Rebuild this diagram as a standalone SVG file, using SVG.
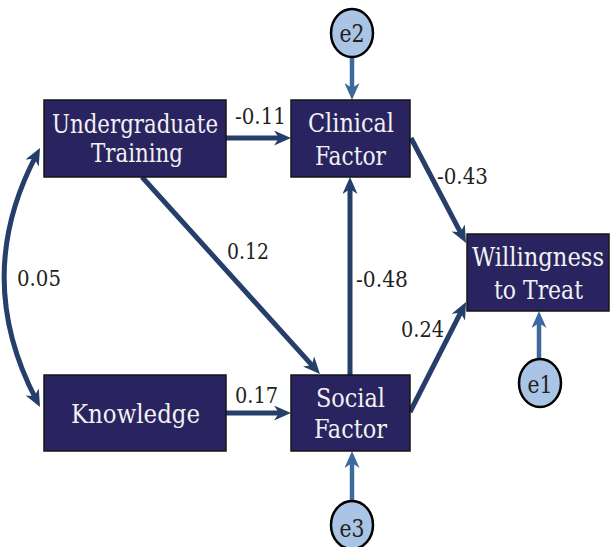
<svg xmlns="http://www.w3.org/2000/svg" width="612" height="547" viewBox="0 0 612 547">
<style>
text{font-family:'DejaVu Serif','Liberation Serif',serif;font-stretch:condensed}
.box{fill:#29235f;stroke:#161616;stroke-width:1.5}
.nt{font-size:26px;fill:#f2f2f2;text-anchor:middle}
.lbl{font-size:23px;fill:#231f20}
.err{fill:#a9c4e4;stroke:#000;stroke-width:2.5}
.et{font-size:24px;fill:#231f20;text-anchor:middle}
.main{fill:none;stroke:#263e6a;stroke-width:5;marker-end:url(#ah)}
.eline{fill:none;stroke:#3c6a9f;stroke-width:4.5;marker-end:url(#ahe)}
</style>
<defs>
<marker id="ah" markerUnits="userSpaceOnUse" markerWidth="17" markerHeight="15" refX="9" refY="7.5" orient="auto" viewBox="0 0 17 15">
<path d="M0,0 L17,7.5 L0,15 L5,7.5 z" fill="#263e6a"/>
</marker>
<marker id="ahe" markerUnits="userSpaceOnUse" markerWidth="17" markerHeight="15" refX="9" refY="7.5" orient="auto" viewBox="0 0 17 15">
<path d="M0,0 L17,7.5 L0,15 L5,7.5 z" fill="#3c6a9f"/>
</marker>
<marker id="ahb" markerUnits="userSpaceOnUse" markerWidth="17" markerHeight="15" refX="9" refY="7.5" orient="auto-start-reverse" viewBox="0 0 17 15">
<path d="M0,0 L17,7.5 L0,15 L5,7.5 z" fill="#263e6a"/>
</marker>
</defs>
<g id="connectors">
<line class="main" x1="226" y1="138" x2="283" y2="138"/>
<line class="main" x1="226" y1="413" x2="283" y2="413"/>
<line class="main" x1="350" y1="375" x2="350" y2="185"/>
<line class="main" x1="142" y1="177" x2="314.6" y2="368.1"/>
<line class="main" x1="411" y1="138" x2="462.3" y2="235.9"/>
<line class="main" x1="410" y1="412" x2="462.4" y2="309.1"/>
<path d="M36.3,155.1 Q-28,277 36.3,399.9" fill="none" stroke="#263e6a" stroke-width="5" marker-start="url(#ahb)" marker-end="url(#ahb)"/>
<line class="eline" x1="352" y1="57" x2="352" y2="92"/>
<line class="eline" x1="352" y1="502" x2="352" y2="459"/>
<line class="eline" x1="539" y1="359" x2="539" y2="319"/>
<text class="lbl" x="235" y="124" textLength="51" lengthAdjust="spacingAndGlyphs">-0.11</text>
<text class="lbl" x="235" y="403" textLength="43" lengthAdjust="spacingAndGlyphs">0.17</text>
<text class="lbl" x="227" y="259" textLength="42" lengthAdjust="spacingAndGlyphs">0.12</text>
<text class="lbl" x="17" y="286" textLength="44" lengthAdjust="spacingAndGlyphs">0.05</text>
<text class="lbl" x="356" y="287" textLength="52" lengthAdjust="spacingAndGlyphs">-0.48</text>
<text class="lbl" x="437" y="184" textLength="51" lengthAdjust="spacingAndGlyphs">-0.43</text>
<text class="lbl" x="401" y="337" textLength="43" lengthAdjust="spacingAndGlyphs">0.24</text>
</g>
<g id="undergrad">
<rect class="box" x="44" y="100" width="182" height="77"/>
<text class="nt" x="135" y="133" textLength="166" lengthAdjust="spacingAndGlyphs">Undergraduate</text>
<text class="nt" x="137" y="162" textLength="92" lengthAdjust="spacingAndGlyphs">Training</text>
</g>
<g id="knowledge">
<rect class="box" x="44" y="375" width="182" height="76"/>
<text class="nt" x="135.5" y="423" textLength="129" lengthAdjust="spacingAndGlyphs">Knowledge</text>
</g>
<g id="clinical">
<rect class="box" x="291" y="100" width="119" height="77"/>
<text class="nt" x="351" y="132" textLength="86" lengthAdjust="spacingAndGlyphs">Clinical</text>
<text class="nt" x="350.5" y="165" textLength="71" lengthAdjust="spacingAndGlyphs">Factor</text>
</g>
<g id="social">
<rect class="box" x="291" y="375" width="119" height="76"/>
<text class="nt" x="350.5" y="407" textLength="69" lengthAdjust="spacingAndGlyphs">Social</text>
<text class="nt" x="350.5" y="438" textLength="73" lengthAdjust="spacingAndGlyphs">Factor</text>
</g>
<g id="willingness">
<rect class="box" x="467" y="234" width="142" height="77"/>
<text class="nt" x="538" y="266" textLength="132" lengthAdjust="spacingAndGlyphs">Willingness</text>
<text class="nt" x="538.5" y="299" textLength="89" lengthAdjust="spacingAndGlyphs">to Treat</text>
</g>
<g id="e2">
<ellipse class="err" cx="352" cy="33" rx="21" ry="24"/>
<text class="et" x="352" y="42" textLength="25" lengthAdjust="spacingAndGlyphs">e2</text>
</g>
<g id="e1">
<ellipse class="err" cx="540" cy="383" rx="21" ry="24"/>
<text class="et" x="540" y="393" textLength="25" lengthAdjust="spacingAndGlyphs">e1</text>
</g>
<g id="e3">
<ellipse class="err" cx="352" cy="525" rx="21" ry="24"/>
<text class="et" x="352" y="537" textLength="25" lengthAdjust="spacingAndGlyphs">e3</text>
</g>
</svg>
